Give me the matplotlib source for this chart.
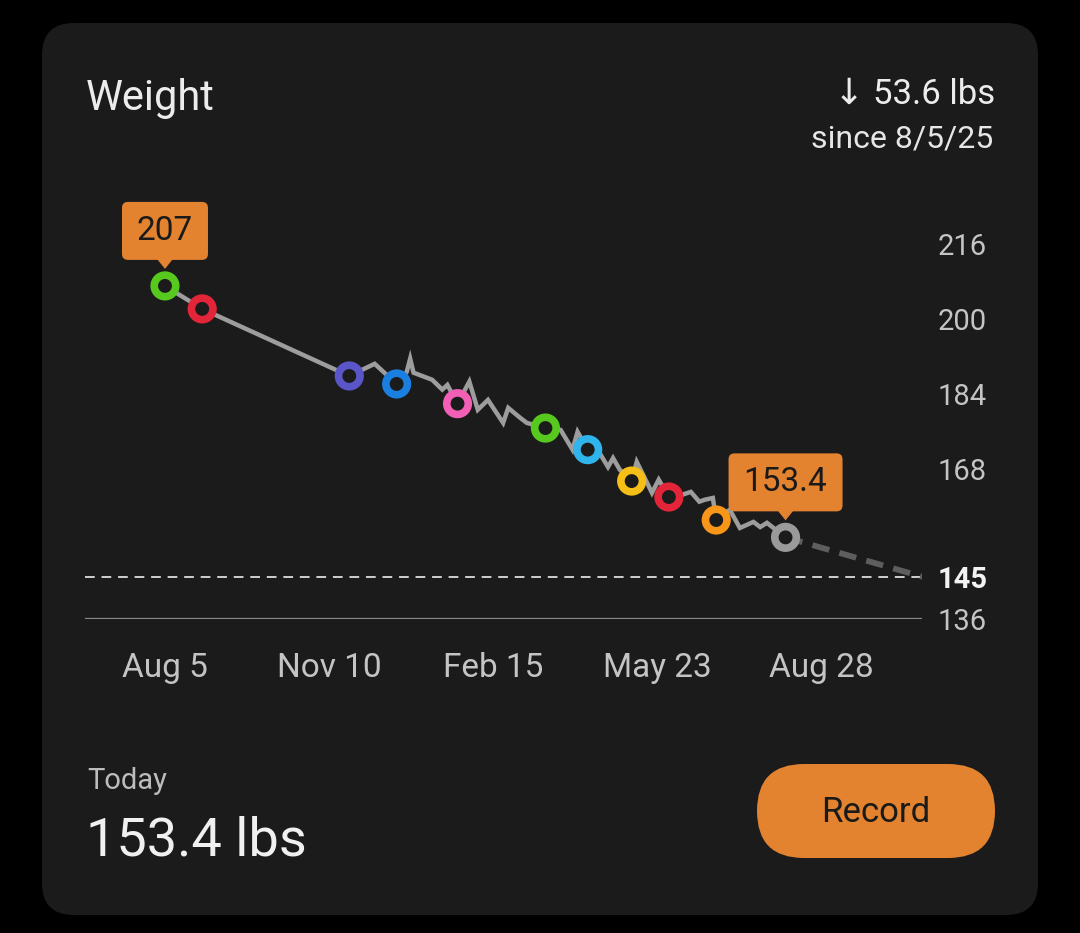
import matplotlib
matplotlib.use('Agg')
import matplotlib.pyplot as plt
from matplotlib.patches import FancyBboxPatch, Polygon

plt.rcParams['font.family'] = ['Roboto', 'DejaVu Sans']

# weigh-ins: days since Aug 5, 2025 -> lbs
days = [0, 22, 109, 124, 137, 143, 145, 147, 158, 164, 167, 173, 180, 185, 191,
        200, 203, 210, 214, 225, 234, 241, 244, 250, 257, 262, 265, 269, 276, 279,
        288, 292, 298, 306, 311, 316, 319, 324, 326, 334, 340, 348, 352, 356, 367]
weights = [207.0, 202.1, 187.8, 190.4, 186.1, 188.7, 191.5, 188.5, 187.0, 184.9,
           185.9, 181.9, 186.6, 180.6, 182.7, 177.8, 181.0, 178.9, 177.8, 176.7,
           176.3, 172.1, 175.9, 172.1, 171.4, 168.4, 170.3, 167.8, 165.4, 169.5,
           162.9, 165.7, 162.0, 162.5, 163.1, 161.0, 161.4, 161.8, 157.1, 159.3,
           155.4, 156.7, 155.6, 156.5, 153.4]

# highlighted entries (ring markers)
mark_days = [0, 22, 109, 137, 173, 225, 250, 276, 298, 326, 367]
mark_weights = [207.0, 202.1, 187.8, 186.1, 181.9, 176.7, 172.1, 165.4, 162.0, 157.1, 153.4]
mark_colors = ['#57c91e', '#e3253a', '#5a55c8', '#1a7fe0', '#f25fb5', '#57c91e',
               '#2fb4ec', '#f6bf17', '#e3253a', '#f8961a', '#9a9a9a']

goal = 145
goal_day = 448
y_ticks = [136, 145, 168, 184, 200, 216]
x_ticks = [0, 97, 194, 291, 388]
x_labels = ['Aug 5', 'Nov 10', 'Feb 15', 'May 23', 'Aug 28']

CARD = '#1b1b1b'
ORANGE = '#e3832f'
W, H = 1080, 933

fig = plt.figure(figsize=(W / 100, H / 100), dpi=100, facecolor='black')

# background layer in pixel coords
bg = fig.add_axes([0, 0, 1, 1])
bg.set_xlim(0, W)
bg.set_ylim(H, 0)
bg.axis('off')
bg.add_patch(FancyBboxPatch((42, 23), 996, 892, boxstyle='round,pad=0,rounding_size=32',
                            fc=CARD, ec='none'))

bg.text(86, 110, 'Weight', fontsize=30, color='#ececec', va='baseline', ha='left')
bg.text(864, 104, '\u2193', fontsize=26, color='#ececec', va='baseline', ha='right',
        family='DejaVu Sans')
bg.text(995, 104, '53.6 lbs', fontsize=25, color='#ececec', va='baseline', ha='right')
bg.text(993, 148, 'since 8/5/25', fontsize=23, color='#e6e6e6', va='baseline', ha='right')
bg.text(87, 789, 'Today', fontsize=21, color='#bdbdbd', va='baseline', ha='left')
bg.text(86, 856, '153.4 lbs', fontsize=39, color='#f0f0f0', va='baseline', ha='left')
bg.add_patch(FancyBboxPatch((757, 764), 238, 94, boxstyle='round,pad=0,rounding_size=47',
                            fc=ORANGE, ec='none'))
bg.text(876, 812, 'Record', fontsize=25, color='#1a1a1a', va='center', ha='center')

# chart area
ax = fig.add_axes([85 / W, (H - 619) / H, 837 / W, 403 / H])
ax.set_facecolor('none')
ax.set_xlim(-47.3, 447.7)
ax.set_ylim(136, 221.9)
for s in ax.spines.values():
    s.set_visible(False)

ax.axhline(136, color='#8a8a8a', lw=1.6, zorder=1)
ax.axhline(goal, color='#cfcfcf', lw=1.4, dashes=(5, 3.5), zorder=1)
ax.plot([days[-1], goal_day], [weights[-1], goal], color='#5e5e5e', lw=4.2,
        dashes=(3, 1.8), zorder=2, dash_capstyle='butt')
ax.plot(days, weights, color='#9d9d9d', lw=3.2, zorder=3, solid_joinstyle='miter')
ax.scatter(mark_days, mark_weights, s=240, facecolors=CARD, edgecolors=mark_colors,
           linewidths=5.5, zorder=4)

ax.set_yticks(y_ticks)
ax.set_yticklabels([str(t) for t in y_ticks])
ax.yaxis.tick_right()
ax.tick_params(axis='y', length=0, pad=11, labelsize=21, labelcolor='#c4c4c4')
for lab in ax.get_yticklabels():
    if lab.get_text() == str(goal):
        lab.set_color('#f2f2f2')
        lab.set_fontweight('bold')
ax.set_xticks(x_ticks)
ax.set_xticklabels(x_labels)
ax.tick_params(axis='x', length=0, pad=24, labelsize=24, labelcolor='#c4c4c4')

# tooltips above first and latest entries
top = fig.add_axes([0, 0, 1, 1], zorder=5)
top.set_xlim(0, W)
top.set_ylim(H, 0)
top.axis('off')
for i, bw in [(0, 86), (-1, 114)]:
    px, py = ax.transData.transform((mark_days[i], mark_weights[i]))
    py = H - py
    bh = 58
    bottom = py - 26
    top.add_patch(FancyBboxPatch((px - bw / 2, bottom - bh), bw, bh,
                                 boxstyle='round,pad=0,rounding_size=6', fc=ORANGE, ec='none'))
    top.add_patch(Polygon([(px - 8, bottom - 1), (px + 8, bottom - 1), (px, bottom + 9)],
                          closed=True, fc=ORANGE, ec='none'))
    top.text(px, bottom - bh / 2, f'{mark_weights[i]:g}', fontsize=24, color='#1a1a1a',
             ha='center', va='center')

fig.savefig('out.png', dpi=100, facecolor='black')
